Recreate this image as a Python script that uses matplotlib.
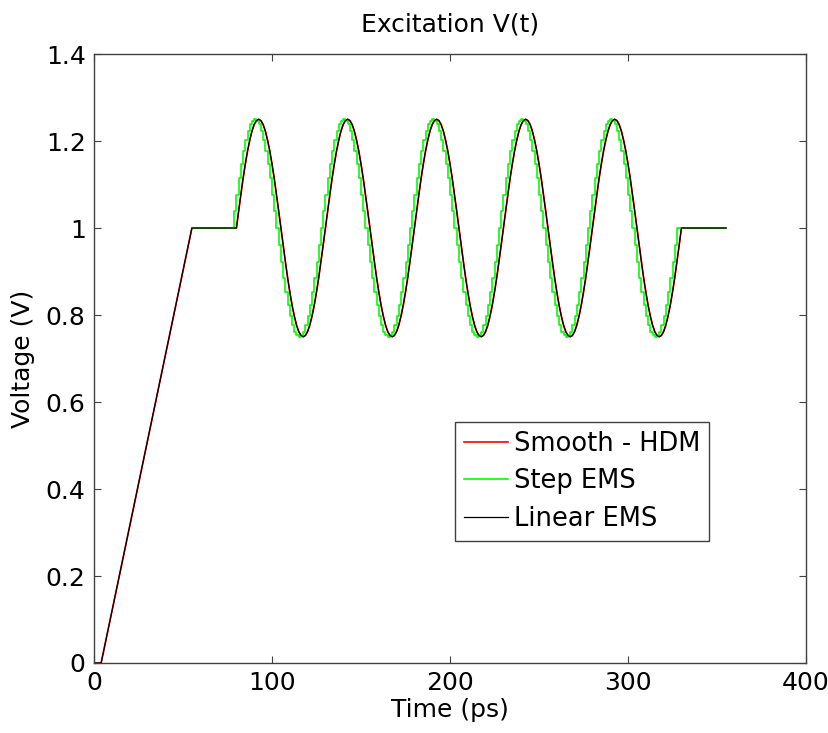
import numpy as np
import matplotlib
matplotlib.use("Agg")
import matplotlib.pyplot as plt
from matplotlib.ticker import FormatStrFormatter

# lead-in: zero, linear ramp to 1 V, flat hold (ps, V)
lead_t = [0.0, 4.0, 55.0]
lead_v = [0.0, 0.0, 1.0]

# burst every 1.25 ps from 80 ps to 330 ps
samp_t0 = 80.0
samp_dt = 1.25
samp_v = [
    1.000, 1.039, 1.077, 1.114, 1.147, 1.177, 1.202, 1.223, 1.238, 1.247,
    1.250, 1.247, 1.238, 1.223, 1.202, 1.177, 1.147, 1.114, 1.077, 1.039,
    1.000, 0.961, 0.923, 0.886, 0.853, 0.823, 0.798, 0.777, 0.762, 0.753,
    0.750, 0.753, 0.762, 0.777, 0.798, 0.823, 0.853, 0.886, 0.923, 0.961,
    1.000, 1.039, 1.077, 1.114, 1.147, 1.177, 1.202, 1.223, 1.238, 1.247,
    1.250, 1.247, 1.238, 1.223, 1.202, 1.177, 1.147, 1.114, 1.077, 1.039,
    1.000, 0.961, 0.923, 0.886, 0.853, 0.823, 0.798, 0.777, 0.762, 0.753,
    0.750, 0.753, 0.762, 0.777, 0.798, 0.823, 0.853, 0.886, 0.923, 0.961,
    1.000, 1.039, 1.077, 1.114, 1.147, 1.177, 1.202, 1.223, 1.238, 1.247,
    1.250, 1.247, 1.238, 1.223, 1.202, 1.177, 1.147, 1.114, 1.077, 1.039,
    1.000, 0.961, 0.923, 0.886, 0.853, 0.823, 0.798, 0.777, 0.762, 0.753,
    0.750, 0.753, 0.762, 0.777, 0.798, 0.823, 0.853, 0.886, 0.923, 0.961,
    1.000, 1.039, 1.077, 1.114, 1.147, 1.177, 1.202, 1.223, 1.238, 1.247,
    1.250, 1.247, 1.238, 1.223, 1.202, 1.177, 1.147, 1.114, 1.077, 1.039,
    1.000, 0.961, 0.923, 0.886, 0.853, 0.823, 0.798, 0.777, 0.762, 0.753,
    0.750, 0.753, 0.762, 0.777, 0.798, 0.823, 0.853, 0.886, 0.923, 0.961,
    1.000, 1.039, 1.077, 1.114, 1.147, 1.177, 1.202, 1.223, 1.238, 1.247,
    1.250, 1.247, 1.238, 1.223, 1.202, 1.177, 1.147, 1.114, 1.077, 1.039,
    1.000, 0.961, 0.923, 0.886, 0.853, 0.823, 0.798, 0.777, 0.762, 0.753,
    0.750, 0.753, 0.762, 0.777, 0.798, 0.823, 0.853, 0.886, 0.923, 0.961,
    1.000,
]

# flat tail after the burst
tail_t = [355.0]
tail_v = [1.0]

# step EMS runs about 1.25 ps ahead of the smooth curve
step_lead = 1.25

samp_t = samp_t0 + samp_dt * np.arange(len(samp_v))
t = np.concatenate([lead_t, samp_t, tail_t])
v = np.concatenate([lead_v, samp_v, tail_v])

step_t = np.concatenate([[lead_t[-1]], samp_t - step_lead, tail_t])
step_v = np.concatenate([[lead_v[-1]], samp_v, tail_v])

plt.rcParams["font.family"] = "DejaVu Sans"
plt.rcParams["font.size"] = 18

fig = plt.figure(figsize=(8.29, 7.33), dpi=100)
ax = fig.add_axes([0.1134, 0.0955, 0.8589, 0.8308])

ax.plot(t, v, color="#ff0000", lw=1.2, label="Smooth - HDM")
ax.plot(step_t, step_v, color="#00ff00", lw=1.2, drawstyle="steps-pre", label="Step EMS")
ax.plot(t, v, color="black", lw=0.9, label="Linear EMS")

ax.set_xlim(0, 400)
ax.set_ylim(0, 1.4)
ax.set_xticks([0, 100, 200, 300, 400])
ax.set_yticks([0, 0.2, 0.4, 0.6, 0.8, 1.0, 1.2, 1.4])
ax.yaxis.set_major_formatter(FormatStrFormatter("%g"))
ax.tick_params(direction="in", length=5, width=0.8, color="#404040",
               top=True, right=True, pad=6)
for sp in ax.spines.values():
    sp.set_color("#404040")
    sp.set_linewidth(1.0)

ax.set_title("Excitation V(t)", pad=16, fontsize=18)
ax.set_xlabel("Time (ps)", labelpad=2)
ax.set_ylabel("Voltage (V)", labelpad=8)

leg = ax.legend(loc="upper left", bbox_to_anchor=(0.507, 0.396), borderaxespad=0,
                fancybox=False, framealpha=1, edgecolor="#404040",
                handlelength=1.7, handletextpad=0.25, labelspacing=0.45,
                borderpad=0.35, fontsize=18.5)
leg.get_frame().set_linewidth(1.0)

fig.savefig("out.png", dpi=100)
